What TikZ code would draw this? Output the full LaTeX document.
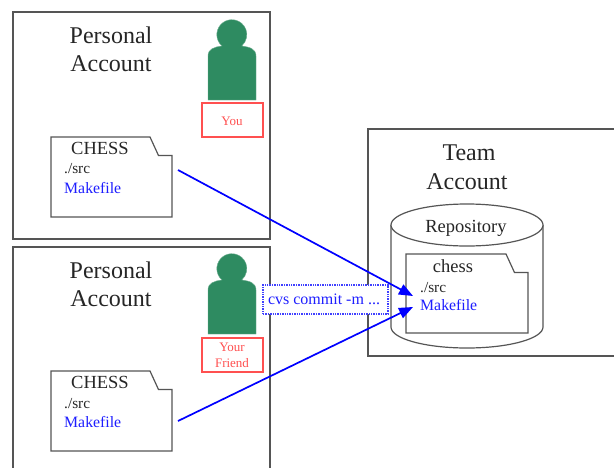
\documentclass[tikz,border=0pt]{standalone}
\usepackage{fontspec}
\setmainfont{Liberation Serif}
\usetikzlibrary{arrows.meta}
\definecolor{lineg}{RGB}{85,85,85}
\definecolor{txtblue}{RGB}{30,30,255}
\definecolor{txtred}{RGB}{255,80,80}
\definecolor{persong}{RGB}{46,139,97}
\tikzset{
  x=1pt,y=-1pt,
  panel/.style={draw=lineg,line width=1.2pt,fill=white},
  folder/.style={draw=lineg,line width=1.2pt,fill=white},
  lbl/.style={inner sep=0pt,anchor=base},
  title/.style={lbl,font=\fontsize{24}{24}\selectfont,text=black!85},
  ftitle/.style={lbl,font=\fontsize{18.5}{18.5}\selectfont,text=black!85},
  fsrc/.style={lbl,anchor=base west,font=\fontsize{15.3}{15.3}\selectfont,text=black!85},
  fmake/.style={lbl,anchor=base west,font=\fontsize{15.8}{15.8}\selectfont,text=txtblue},
  person/.style={fill=persong,draw=persong!70!white,line width=0.4pt},
  rbox/.style={draw=txtred,line width=1.1pt,fill=white,minimum width=61pt,inner sep=0pt},
  rtxt/.style={lbl,font=\fontsize{13}{13}\selectfont,text=txtred},
  commit/.style={draw=blue!75!white,dash pattern=on 1.4pt off 1pt,line width=1.2pt,fill=white,minimum width=125pt,minimum height=29pt,inner sep=0pt},
  flow/.style={draw=blue,line width=1.7pt,-{Triangle[length=14pt,width=11pt]}}
}
\newcommand{\folderat}[4]{% x y width height (notch fixed)
  \draw[folder] (#1,#2) -- ({#1+#3-22},#2) -- ({#1+#3-13.5},{#2+18.5}) -- ({#1+#3},{#2+18.5}) -- ({#1+#3},{#2+#4}) -- (#1,{#2+#4}) -- cycle;}
\newcommand{\personat}[1]{%
  \path[person] (208,{#1+65}) -- (208,{#1+21})
    .. controls (208,{#1+14}) and (214,{#1+12}) .. (222,{#1+11})
    arc[start angle=229,end angle=-49,x radius=15,y radius=-15]
    .. controls (250,{#1+12}) and (256,{#1+14}) .. (256,{#1+21})
    -- (256,{#1+65}) -- cycle;}
\begin{document}
\begin{tikzpicture}
\useasboundingbox (0,0) rectangle (614,467);
\fill[white] (0,0) rectangle (614,467);
% panels
\draw[panel] (13,12) rectangle (270,239);
\draw[panel] (13,475) -- (13,247) -- (270,247) -- (270,475);
\draw[panel] (625,129) -- (368,129) -- (368,356) -- (625,356);
% titles
\node[title] (p1a) at (111,43) {Personal};
\node[title] (p1b) at (111,71) {Account};
\node[title] (p2a) at (111,278) {Personal};
\node[title] (p2b) at (111,306) {Account};
\node[title] (t1) at (469,160) {Team};
\node[title] (t2) at (467,189) {Account};
% persons
\personat{35}
\personat{269}
\node[rbox,minimum height=34pt] (youbox) at (232.5,120) {};
\node[rtxt] (you) at (232,125) {You};
\node[rbox,minimum height=34pt] (friendbox) at (232.5,355) {};
\node[rtxt] (your) at (232,351) {Your};
\node[rtxt] (friend) at (232,367) {Friend};
% personal folders
\folderat{51}{137}{121}{80}
\node[ftitle] (c1) at (100,154) {CHESS};
\node[fsrc] (s1) at (64,173) {./src};
\node[fmake] (m1) at (64,193) {Makefile};
\folderat{51}{371}{121}{80}
\node[ftitle] (c2) at (100,388) {CHESS};
\node[fsrc] (s2) at (64,408) {./src};
\node[fmake] (m2) at (64,427) {Makefile};
% repository
\draw[folder] (391,225) -- (391,327) arc[start angle=180,end angle=360,x radius=76,y radius=-21] -- (543,225);
\draw[folder] (467,225) ellipse[x radius=76,y radius=21];
\node[ftitle] (repo) at (466,232) {Repository};
\folderat{406}{254}{122}{79}
\node[ftitle] (c3) at (453,272) {chess};
\node[fsrc] (s3) at (420,292) {./src};
\node[fmake] (m3) at (420,310) {Makefile};
% commit label
\node[commit] (cmd) at (325.5,299.5) {};
\node[lbl,font=\fontsize{16}{16}\selectfont,text=txtblue] (cmdt) at (324,304) {cvs commit -m ...};
% arrows
\coordinate (from1) at (178,170);
\coordinate (from2) at (178,421);
\coordinate (to1) at (413,296);
\coordinate (to2) at (413,307);
\draw[flow] (from1) -- (to1);
\draw[flow] (from2) -- (to2);
\end{tikzpicture}
\end{document}
